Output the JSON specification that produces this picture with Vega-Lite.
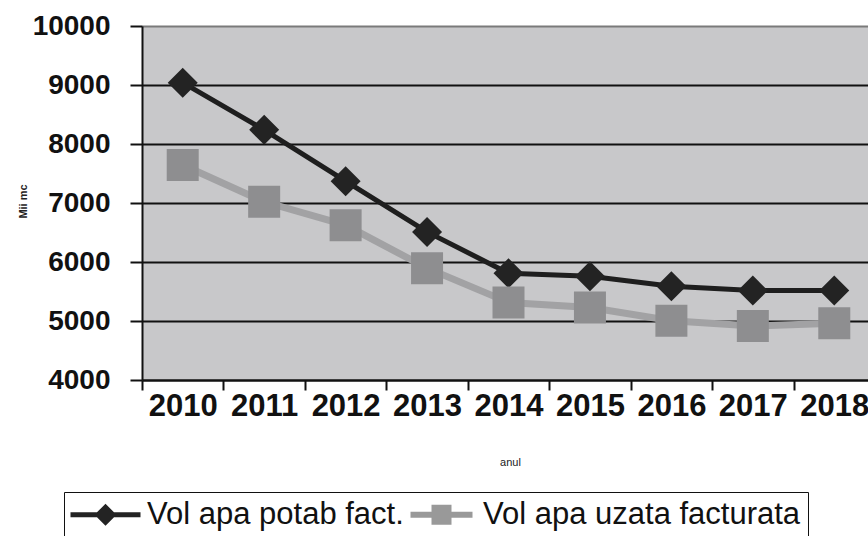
{
  "$schema": "https://vega.github.io/schema/vega-lite/v6.json",
  "autosize": "none",
  "padding": {"left": 142, "top": 26, "right": 0, "bottom": 156},
  "width": 726,
  "height": 354,
  "background": "#ffffff",
  "config": {
    "font": "Liberation Sans",
    "view": {"fill": "#c8c8ca", "stroke": null}
  },
  "data": {
    "values": [
      {"year": "2010", "series": "Vol apa potab fact.", "value": 9040},
      {"year": "2011", "series": "Vol apa potab fact.", "value": 8240},
      {"year": "2012", "series": "Vol apa potab fact.", "value": 7370},
      {"year": "2013", "series": "Vol apa potab fact.", "value": 6510},
      {"year": "2014", "series": "Vol apa potab fact.", "value": 5810},
      {"year": "2015", "series": "Vol apa potab fact.", "value": 5760},
      {"year": "2016", "series": "Vol apa potab fact.", "value": 5590},
      {"year": "2017", "series": "Vol apa potab fact.", "value": 5515},
      {"year": "2018", "series": "Vol apa potab fact.", "value": 5515},
      {"year": "2010", "series": "Vol apa uzata facturata", "value": 7645},
      {"year": "2011", "series": "Vol apa uzata facturata", "value": 7020},
      {"year": "2012", "series": "Vol apa uzata facturata", "value": 6625},
      {"year": "2013", "series": "Vol apa uzata facturata", "value": 5895},
      {"year": "2014", "series": "Vol apa uzata facturata", "value": 5315},
      {"year": "2015", "series": "Vol apa uzata facturata", "value": 5230},
      {"year": "2016", "series": "Vol apa uzata facturata", "value": 5005},
      {"year": "2017", "series": "Vol apa uzata facturata", "value": 4915},
      {"year": "2018", "series": "Vol apa uzata facturata", "value": 4960}
    ]
  },
  "encoding": {
    "x": {
      "field": "year",
      "type": "ordinal",
      "bandPosition": 0.5,
      "scale": {"type": "band", "paddingInner": 0, "paddingOuter": 0, "range": [0, 733]},
      "axis": {
        "title": "anul",
        "titleFont": "Liberation Sans",
        "titleFontSize": 11,
        "titleFontWeight": "normal",
        "titleColor": "#222",
        "titleX": 368,
        "titleY": 76,
        "labelAngle": 0,
        "labelFont": "Liberation Sans",
        "labelFontSize": 31,
        "labelFontWeight": "bold",
        "labelColor": "#111",
        "labelPadding": 1,
        "tickBand": "extent",
        "tickSize": 10,
        "tickWidth": 2,
        "tickColor": "#111",
        "domainColor": "#111",
        "domainWidth": 2,
        "grid": false
      }
    },
    "y": {
      "field": "value",
      "type": "quantitative",
      "scale": {"domain": [4000, 10000], "nice": false, "zero": false},
      "axis": {
        "title": "Mii mc",
        "titleFont": "Liberation Sans",
        "titleFontSize": 11,
        "titleFontWeight": "bold",
        "titleColor": "#222",
        "titleX": -114,
        "titleY": 175,
        "titleAngle": -90,
        "titleAlign": "center",
        "values": [4000, 5000, 6000, 7000, 8000, 9000, 10000],
        "format": "d",
        "labelFont": "Liberation Sans",
        "labelFontSize": 28,
        "labelFontWeight": "bold",
        "labelColor": "#111",
        "labelPadding": 20,
        "tickSize": 12,
        "tickWidth": 2,
        "tickColor": "#111",
        "domainColor": "#111",
        "domainWidth": 2,
        "grid": true,
        "gridColor": {"condition": {"test": "datum.value === 10000", "value": "#7a7a7a"}, "value": "#111111"},
        "gridWidth": 2
      }
    }
  },
  "layer": [
    {
      "mark": {"type": "line"},
      "encoding": {
        "color": {
          "field": "series",
          "type": "nominal",
          "scale": {"domain": ["Vol apa potab fact.", "Vol apa uzata facturata"], "range": ["#1e1e1e", "#a2a2a4"]},
          "legend": null
        },
        "strokeWidth": {
          "field": "series",
          "type": "nominal",
          "scale": {"domain": ["Vol apa potab fact.", "Vol apa uzata facturata"], "range": [5, 7]},
          "legend": null
        }
      }
    },
    {
      "mark": {"type": "point", "filled": true, "opacity": 1},
      "encoding": {
        "color": {
          "field": "series",
          "type": "nominal",
          "scale": {"domain": ["Vol apa potab fact.", "Vol apa uzata facturata"], "range": ["#232323", "#8e8e90"]},
          "legend": null
        },
        "shape": {
          "field": "series",
          "type": "nominal",
          "scale": {"domain": ["Vol apa potab fact.", "Vol apa uzata facturata"], "range": ["diamond", "square"]},
          "legend": null
        },
        "size": {
          "field": "series",
          "type": "nominal",
          "scale": {"domain": ["Vol apa potab fact.", "Vol apa uzata facturata"], "range": [900, 1024]},
          "legend": null
        }
      }
    },
    {
      "transform": [{"filter": "false"}],
      "mark": {"type": "point", "filled": true, "opacity": 1},
      "encoding": {
        "color": {
          "field": "series",
          "type": "nominal",
          "scale": {"domain": ["Vol apa potab fact.", "Vol apa uzata facturata"], "range": ["#232323", "#999999"]},
          "legend": {
            "title": null,
            "orient": "none",
            "legendX": -78,
            "legendY": 466,
            "direction": "horizontal",
            "padding": 7,
            "strokeColor": "#111",
            "fillColor": "#ffffff",
            "labelFont": "Liberation Sans",
            "labelFontSize": 31,
            "labelColor": "#111",
            "labelLimit": 0,
            "labelOffset": 26,
            "symbolOffset": 19,
            "symbolSize": 400,
            "columnPadding": 3
          }
        },
        "shape": {
          "field": "series",
          "type": "nominal",
          "scale": {
            "domain": ["Vol apa potab fact.", "Vol apa uzata facturata"],
            "range": [
              "M-3.5,-0.25L3.5,-0.25L3.5,0.25L-3.5,0.25Z M0,-1.1L1.1,0L0,1.1L-1.1,0Z",
              "M-3.1,-0.3L3.1,-0.3L3.1,0.3L-3.1,0.3Z M-1,-1L1,-1L1,1L-1,1Z"
            ]
          },
          "legend": {
            "title": null,
            "orient": "none",
            "legendX": -78,
            "legendY": 466,
            "direction": "horizontal",
            "padding": 7,
            "strokeColor": "#111",
            "fillColor": "#ffffff",
            "labelFont": "Liberation Sans",
            "labelFontSize": 31,
            "labelColor": "#111",
            "labelLimit": 0,
            "labelOffset": 26,
            "symbolOffset": 19,
            "symbolSize": 400,
            "columnPadding": 3
          }
        }
      }
    }
  ],
  "resolve": {"scale": {"color": "independent", "shape": "independent", "size": "independent"}}
}
